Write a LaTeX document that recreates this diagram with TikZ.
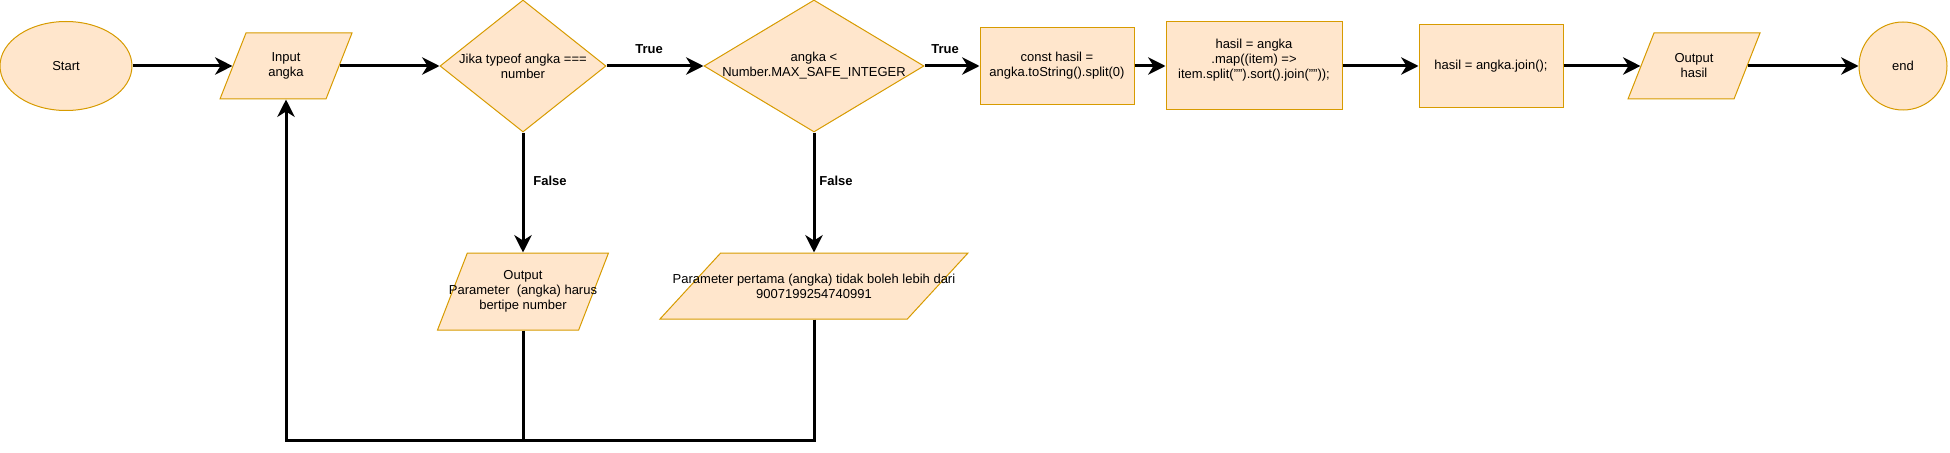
\documentclass[tikz,border=0pt]{standalone}
\usepackage{fontspec}
\setmainfont{Liberation Sans}
\usetikzlibrary{shapes.geometric,arrows.meta,positioning}
\definecolor{flowfill}{RGB}{255,230,204}
\definecolor{flowline}{RGB}{215,155,0}

\begin{document}
\begin{tikzpicture}[x=0.75pt, y=-0.75pt,
  base/.style={draw=flowline, fill=flowfill, line width=0.75pt, inner sep=0pt},
  txt/.style={align=center, font=\fontsize{9.75}{11.25}\selectfont, inner sep=0pt},
  term/.style={base, ellipse, txt, minimum width=99pt, minimum height=66.75pt},
  io/.style={base, trapezium, trapezium left angle=72, trapezium right angle=108,
             trapezium stretches=true, inner sep=2pt},
  dec/.style={base, diamond, minimum height=99pt},
  proc/.style={base, rectangle, txt},
  lbl/.style={font=\fontsize{9.75}{11.25}\selectfont\bfseries},
  arr/.style={-{Stealth[length=13pt, width=13pt, inset=4pt]}, line width=2.25pt},
  line/.style={line width=2.25pt}
]
  \useasboundingbox (0,0) rectangle (1950,453);

  \node[term] (start) at (66,66) {Start};

  \node[io, minimum width=99pt, minimum height=49.5pt,
        label={[txt]center:Input\\angka}] (inp) at (286,66) {};

  \node[dec, minimum width=124.5pt,
        label={[txt]center:Jika typeof angka ===\\number}] (d1) at (523,66) {};

  \node[dec, minimum width=165pt,
        label={[txt]center:angka <\\Number.MAX\_SAFE\_INTEGER}] (d2) at (814,66) {};

  \node[proc, minimum width=115.5pt, minimum height=57.75pt] (p1) at (1057,66)
    {const hasil =\\angka.toString().split(0)};

  \node[proc, minimum width=132pt, minimum height=66pt] (p2) at (1254,66)
    {hasil = angka\\.map((item) =>\\item.split("").sort().join(""));\\\mbox{}};

  \node[proc, minimum width=108pt, minimum height=62.25pt] (p3) at (1491,66)
    {hasil = angka.join();};

  \node[io, minimum width=99pt, minimum height=49.5pt,
        label={[txt]center:Output\\hasil}] (out) at (1694,66) {};

  \node[base, circle, txt, minimum size=66pt] (stop) at (1903,66) {end};

  \node[io, minimum width=128.25pt, minimum height=57.75pt,
        trapezium left angle=75, trapezium right angle=105,
        label={[txt]center:Output\\Parameter~ (angka) harus\\bertipe number}] (o1) at (523,291.5) {};

  \node[io, minimum width=231pt, minimum height=49.5pt,
        label={[txt]center:Parameter pertama (angka) tidak boleh lebih dari\\9007199254740991}] (o2) at (814,286) {};

  \node[lbl] (t1) at (649,49) {True};
  \node[lbl] (t2) at (945,49) {True};
  \node[lbl] (f1) at (550,181) {False};
  \node[lbl] (f2) at (836,181) {False};

  \foreach \from/\to in {start/inp, inp/d1, d1/d2, d2/p1, p1/p2, p2/p3, p3/out, out/stop}
    \draw[arr] (\from) -- (\to);
  \draw[arr] (d1) -- (o1);
  \draw[arr] (d2) -- (o2);

  \coordinate (loop) at (523,440);
  \draw[arr] (o1) -- (loop) -| (inp);
  \draw[line] (o2) |- (loop);
\end{tikzpicture}
\end{document}
